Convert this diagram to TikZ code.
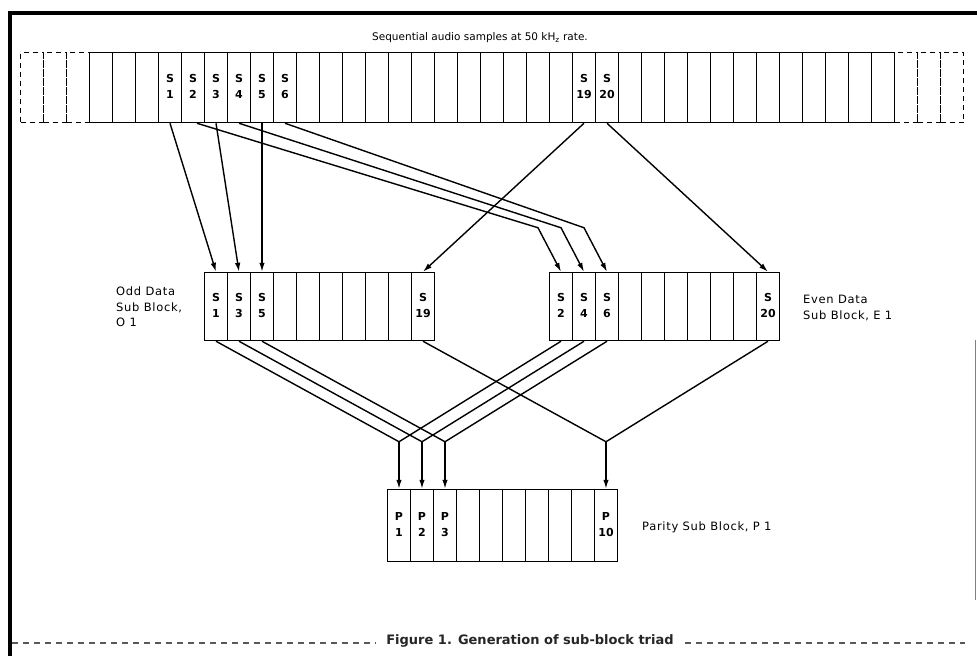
\documentclass[tikz,border=0pt]{standalone}
\usepackage{fontspec}
\setmainfont{DejaVu Sans}
\newfontfamily\lblfont[LetterSpace=6]{DejaVu Sans}
\usetikzlibrary{arrows.meta,calc}
\newcommand\twoline[2]{\begin{tabular}{@{}c@{}}#1\\#2\end{tabular}}
\begin{document}
\begin{tikzpicture}[x=1pt,y=-1pt,
  cellbase/.style={draw, line width=1.5pt, inner sep=0pt, minimum width=23pt,
    font=\fontsize{11}{15.5}\selectfont\bfseries},
  topcell/.style={cellbase, minimum height=70pt},
  dcell/.style={draw, line width=1.8pt, dash pattern=on 5pt off 4pt,
    minimum width=23pt, minimum height=70pt, inner sep=0pt},
  oddcell/.style={cellbase, minimum height=68pt},
  evencell/.style={cellbase, minimum height=68pt},
  parcell/.style={cellbase, minimum height=72pt},
  wire/.style={line width=1.4pt},
  arr/.style={wire, -{Latex[length=9pt,width=5.5pt]}},
  lbl/.style={inner sep=0pt, font=\lblfont\fontsize{11.5}{15.5}\selectfont},
  frame/.style={line width=3.5pt, black}
]
\useasboundingbox (0,0) rectangle (977,656);

% frame
\draw[frame] (8,13) -- (977,13);
\draw[line width=4pt] (10,11) -- (10,656);
\draw[line width=0.8pt, gray] (975,340) -- (975,600);
\draw[line width=2.5pt, dash pattern=on 6pt off 5pt, gray!70!black] (12,643) -- (376,643);
\draw[line width=2.5pt, dash pattern=on 6pt off 5pt, gray!70!black] (685,643) -- (965,643);

% title
\node[inner sep=0pt, font=\fontsize{10.5}{12}\selectfont] (title) at (480,38)
  {Sequential audio samples at 50 kH\textsubscript{z} rate.};

% dashed cells
\foreach \i in {1,2,3}{
  \node[dcell] (dl\i) at ({89.5-23*(\i-0.5)},87.5) {};
  \node[dcell] (dr\i) at ({894.5+23*(\i-0.5)},87.5) {};
}

% top row
\foreach \i in {0,...,34}{
  \pgfmathtruncatemacro\k{\i-2}
  \pgfmathtruncatemacro\show{((\i>2)&&(\i<9))||(\i==21)||(\i==22)}
  \node[topcell] (t\i) at ({89.5+23*(\i+0.5)},87.5)
    {\ifnum\show=1 \twoline{S}{\k}\fi};
}

% odd, even, parity blocks
\foreach \i in {1,...,10}{
  \pgfmathtruncatemacro\ko{2*\i-1}
  \pgfmathtruncatemacro\ke{2*\i}
  \pgfmathtruncatemacro\show{(\i<4)||(\i==10)}
  \node[oddcell] (o\i) at ({204.5+23*(\i-0.5)},306.5)
    {\ifnum\show=1 \twoline{S}{\ko}\fi};
  \node[evencell] (e\i) at ({549.5+23*(\i-0.5)},306.5)
    {\ifnum\show=1 \twoline{S}{\ke}\fi};
  \node[parcell] (p\i) at ({387.5+23*(\i-0.5)},525.5)
    {\ifnum\show=1 \twoline{P}{\i}\fi};
}

% labels
\node[lbl, anchor=north west, align=left] (oddlbl) at (116,287)
  {Odd Data\\Sub Block,\\O 1};
\node[lbl, anchor=north west, align=left] (evenlbl) at (803,295)
  {Even Data\\Sub Block, E 1};
\node[lbl, anchor=west] (parlbl) at (642,527) {Parity Sub Block, P 1};

% caption
\node[inner sep=0pt, font=\fontsize{13}{15}\selectfont\bfseries, text=black!85] (caption) at (530,641)
  {Figure 1. Generation of sub-block triad};

% top -> odd
\draw[arr] (t3.south) -- (o1.north);
\draw[arr] (t5.south) -- (o2.north);
\draw[arr] (t7.south) -- (o3.north);
\draw[arr] (t21.south) -- (o10.north);
% top -> even
\draw[arr] ([xshift=4pt]t4.south) -- ($(e1.north)+(-23,-44)$) -- (e1.north);
\draw[arr] (t6.south) -- ($(e2.north)+(-23,-44)$) -- (e2.north);
\draw[arr] (t8.south) -- ($(e3.north)+(-23,-44)$) -- (e3.north);
\draw[arr] (t22.south) -- (e10.north);

% odd/even -> parity
\foreach \a/\b/\p in {1/1/1, 2/2/2, 3/3/3, 10/10/10}{
  \coordinate (j\p) at ($(p\p.north)+(0,-47)$);
  \draw[wire] (o\a.south) -- (j\p) -- (e\b.south);
  \draw[arr] (j\p) -- (p\p.north);
}
\end{tikzpicture}
\end{document}
